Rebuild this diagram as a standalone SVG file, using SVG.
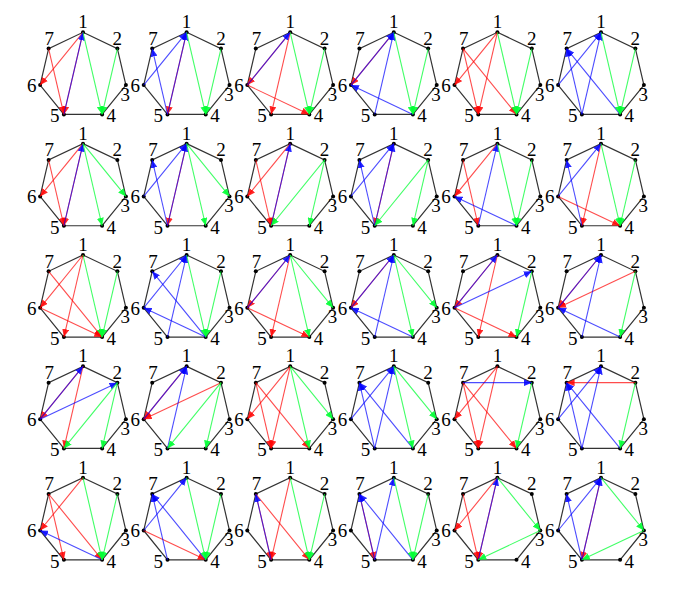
<svg xmlns="http://www.w3.org/2000/svg" xmlns:xlink="http://www.w3.org/1999/xlink" width="697" height="601" viewBox="0 0 697 601">
<style>
.hp{fill:none;stroke:#333;stroke-width:1.2}
.dot{fill:#000}
text{font-family:"Liberation Serif","DejaVu Serif",serif;font-size:19px;fill:#000;text-anchor:middle}
.r,.b,.g{fill:none;stroke-width:1.1}
.r{stroke:#ff0000;stroke-opacity:.7;marker-end:url(#mr)}
.b{stroke:#0000ff;stroke-opacity:.7;marker-end:url(#mb)}
.g{stroke:#00ff33;stroke-opacity:.75;marker-end:url(#mg)}
</style>
<defs>
<marker id="mr" viewBox="0 0 8 7" refX="8" refY="3.5" markerWidth="8" markerHeight="7" markerUnits="userSpaceOnUse" orient="auto"><path d="M0,0L8,3.5L0,7z" fill="#ff0000" fill-opacity=".85"/></marker>
<marker id="mb" viewBox="0 0 8 7" refX="8" refY="3.5" markerWidth="8" markerHeight="7" markerUnits="userSpaceOnUse" orient="auto"><path d="M0,0L8,3.5L0,7z" fill="#0000ff" fill-opacity=".85"/></marker>
<marker id="mg" viewBox="0 0 8 7" refX="8" refY="3.5" markerWidth="8" markerHeight="7" markerUnits="userSpaceOnUse" orient="auto"><path d="M0,0L8,3.5L0,7z" fill="#00ff33" fill-opacity=".9"/></marker>
<g id="hept">
<polygon class="hp" points="0,-43.2 34.4,-26.9 42.9,9.6 19.1,38.9 -19.1,38.9 -42.9,9.6 -34.4,-26.9"/>
<circle class="dot" cx="0" cy="-43.2" r="2"/><circle class="dot" cx="34.4" cy="-26.9" r="2"/><circle class="dot" cx="42.9" cy="9.6" r="2"/><circle class="dot" cx="19.1" cy="38.9" r="2"/><circle class="dot" cx="-19.1" cy="38.9" r="2"/><circle class="dot" cx="-42.9" cy="9.6" r="2"/><circle class="dot" cx="-34.4" cy="-26.9" r="2"/>
</g>
</defs>

<!-- Row 1 -->
<g id="cell-1-1" transform="translate(83,75.5)"><use href="#hept"/><text x="0" y="-47.2">1</text><text x="34.3" y="-30.5">2</text><text x="42.3" y="25">3</text><text x="28.3" y="46.7">4</text><text x="-28.3" y="46.7">5</text><text x="-51.3" y="16.3">6</text><text x="-33.7" y="-30.5">7</text>
<g class="connectors"><path class="r" d="M-34.4,-26.9L-19.1,38.9"/><path class="r" d="M0,-43.2L-42.9,9.6"/><path class="r" d="M0,-43.2L-19.1,38.9"/><path class="b" d="M-19.1,38.9L0,-43.2"/><path class="g" d="M0,-43.2L19.1,38.9"/><path class="g" d="M34.4,-26.9L19.1,38.9"/></g></g>

<g id="cell-1-2" transform="translate(186.6,75.5)"><use href="#hept"/><text x="0" y="-47.2">1</text><text x="34.3" y="-30.5">2</text><text x="42.3" y="25">3</text><text x="28.3" y="46.7">4</text><text x="-28.3" y="46.7">5</text><text x="-51.3" y="16.3">6</text><text x="-33.7" y="-30.5">7</text>
<g class="connectors"><path class="r" d="M0,-43.2L-19.1,38.9"/><path class="b" d="M-42.9,9.6L0,-43.2"/><path class="b" d="M-19.1,38.9L-34.4,-26.9"/><path class="b" d="M-19.1,38.9L0,-43.2"/><path class="g" d="M0,-43.2L19.1,38.9"/><path class="g" d="M34.4,-26.9L19.1,38.9"/></g></g>

<g id="cell-1-3" transform="translate(290.2,75.5)"><use href="#hept"/><text x="0" y="-47.2">1</text><text x="34.3" y="-30.5">2</text><text x="42.3" y="25">3</text><text x="28.3" y="46.7">4</text><text x="-28.3" y="46.7">5</text><text x="-51.3" y="16.3">6</text><text x="-33.7" y="-30.5">7</text>
<g class="connectors"><path class="r" d="M0,-43.2L-42.9,9.6"/><path class="r" d="M0,-43.2L-19.1,38.9"/><path class="r" d="M-42.9,9.6L19.1,38.9"/><path class="b" d="M-42.9,9.6L0,-43.2"/><path class="g" d="M0,-43.2L19.1,38.9"/><path class="g" d="M34.4,-26.9L19.1,38.9"/></g></g>

<g id="cell-1-4" transform="translate(393.8,75.5)"><use href="#hept"/><text x="0" y="-47.2">1</text><text x="34.3" y="-30.5">2</text><text x="42.3" y="25">3</text><text x="28.3" y="46.7">4</text><text x="-28.3" y="46.7">5</text><text x="-51.3" y="16.3">6</text><text x="-33.7" y="-30.5">7</text>
<g class="connectors"><path class="r" d="M0,-43.2L-42.9,9.6"/><path class="b" d="M-42.9,9.6L0,-43.2"/><path class="b" d="M-19.1,38.9L0,-43.2"/><path class="b" d="M19.1,38.9L-42.9,9.6"/><path class="g" d="M0,-43.2L19.1,38.9"/><path class="g" d="M34.4,-26.9L19.1,38.9"/></g></g>

<g id="cell-1-5" transform="translate(497.4,75.5)"><use href="#hept"/><text x="0" y="-47.2">1</text><text x="34.3" y="-30.5">2</text><text x="42.3" y="25">3</text><text x="28.3" y="46.7">4</text><text x="-28.3" y="46.7">5</text><text x="-51.3" y="16.3">6</text><text x="-33.7" y="-30.5">7</text>
<g class="connectors"><path class="r" d="M0,-43.2L-42.9,9.6"/><path class="r" d="M0,-43.2L-19.1,38.9"/><path class="r" d="M-34.4,-26.9L-19.1,38.9"/><path class="r" d="M-34.4,-26.9L19.1,38.9"/><path class="g" d="M0,-43.2L19.1,38.9"/><path class="g" d="M34.4,-26.9L19.1,38.9"/></g></g>

<g id="cell-1-6" transform="translate(601,75.5)"><use href="#hept"/><text x="0" y="-47.2">1</text><text x="34.3" y="-30.5">2</text><text x="42.3" y="25">3</text><text x="28.3" y="46.7">4</text><text x="-28.3" y="46.7">5</text><text x="-51.3" y="16.3">6</text><text x="-33.7" y="-30.5">7</text>
<g class="connectors"><path class="b" d="M-42.9,9.6L0,-43.2"/><path class="b" d="M-19.1,38.9L0,-43.2"/><path class="b" d="M-19.1,38.9L-34.4,-26.9"/><path class="b" d="M19.1,38.9L-34.4,-26.9"/><path class="g" d="M0,-43.2L19.1,38.9"/><path class="g" d="M34.4,-26.9L19.1,38.9"/></g></g>

<!-- Row 2 -->
<g id="cell-2-1" transform="translate(83,186.85)"><use href="#hept"/><text x="0" y="-47.2">1</text><text x="34.3" y="-30.5">2</text><text x="42.3" y="25">3</text><text x="28.3" y="46.7">4</text><text x="-28.3" y="46.7">5</text><text x="-51.3" y="16.3">6</text><text x="-33.7" y="-30.5">7</text>
<g class="connectors"><path class="r" d="M-34.4,-26.9L-19.1,38.9"/><path class="r" d="M0,-43.2L-42.9,9.6"/><path class="r" d="M0,-43.2L-19.1,38.9"/><path class="b" d="M-19.1,38.9L0,-43.2"/><path class="g" d="M0,-43.2L19.1,38.9"/><path class="g" d="M0,-43.2L42.9,9.6"/></g></g>

<g id="cell-2-2" transform="translate(186.6,186.85)"><use href="#hept"/><text x="0" y="-47.2">1</text><text x="34.3" y="-30.5">2</text><text x="42.3" y="25">3</text><text x="28.3" y="46.7">4</text><text x="-28.3" y="46.7">5</text><text x="-51.3" y="16.3">6</text><text x="-33.7" y="-30.5">7</text>
<g class="connectors"><path class="r" d="M0,-43.2L-19.1,38.9"/><path class="b" d="M-42.9,9.6L0,-43.2"/><path class="b" d="M-19.1,38.9L-34.4,-26.9"/><path class="b" d="M-19.1,38.9L0,-43.2"/><path class="g" d="M0,-43.2L19.1,38.9"/><path class="g" d="M0,-43.2L42.9,9.6"/></g></g>

<g id="cell-2-3" transform="translate(290.2,186.85)"><use href="#hept"/><text x="0" y="-47.2">1</text><text x="34.3" y="-30.5">2</text><text x="42.3" y="25">3</text><text x="28.3" y="46.7">4</text><text x="-28.3" y="46.7">5</text><text x="-51.3" y="16.3">6</text><text x="-33.7" y="-30.5">7</text>
<g class="connectors"><path class="r" d="M-34.4,-26.9L-19.1,38.9"/><path class="r" d="M0,-43.2L-42.9,9.6"/><path class="r" d="M0,-43.2L-19.1,38.9"/><path class="b" d="M-19.1,38.9L0,-43.2"/><path class="g" d="M34.4,-26.9L-19.1,38.9"/><path class="g" d="M34.4,-26.9L19.1,38.9"/></g></g>

<g id="cell-2-4" transform="translate(393.8,186.85)"><use href="#hept"/><text x="0" y="-47.2">1</text><text x="34.3" y="-30.5">2</text><text x="42.3" y="25">3</text><text x="28.3" y="46.7">4</text><text x="-28.3" y="46.7">5</text><text x="-51.3" y="16.3">6</text><text x="-33.7" y="-30.5">7</text>
<g class="connectors"><path class="r" d="M0,-43.2L-19.1,38.9"/><path class="b" d="M-42.9,9.6L0,-43.2"/><path class="b" d="M-19.1,38.9L-34.4,-26.9"/><path class="b" d="M-19.1,38.9L0,-43.2"/><path class="g" d="M34.4,-26.9L-19.1,38.9"/><path class="g" d="M34.4,-26.9L19.1,38.9"/></g></g>

<g id="cell-2-5" transform="translate(497.4,186.85)"><use href="#hept"/><text x="0" y="-47.2">1</text><text x="34.3" y="-30.5">2</text><text x="42.3" y="25">3</text><text x="28.3" y="46.7">4</text><text x="-28.3" y="46.7">5</text><text x="-51.3" y="16.3">6</text><text x="-33.7" y="-30.5">7</text>
<g class="connectors"><path class="r" d="M0,-43.2L-42.9,9.6"/><path class="r" d="M-34.4,-26.9L-19.1,38.9"/><path class="b" d="M-19.1,38.9L0,-43.2"/><path class="b" d="M19.1,38.9L-42.9,9.6"/><path class="g" d="M0,-43.2L19.1,38.9"/><path class="g" d="M34.4,-26.9L19.1,38.9"/></g></g>

<g id="cell-2-6" transform="translate(601,186.85)"><use href="#hept"/><text x="0" y="-47.2">1</text><text x="34.3" y="-30.5">2</text><text x="42.3" y="25">3</text><text x="28.3" y="46.7">4</text><text x="-28.3" y="46.7">5</text><text x="-51.3" y="16.3">6</text><text x="-33.7" y="-30.5">7</text>
<g class="connectors"><path class="r" d="M0,-43.2L-19.1,38.9"/><path class="r" d="M-42.9,9.6L19.1,38.9"/><path class="b" d="M-42.9,9.6L0,-43.2"/><path class="b" d="M-19.1,38.9L-34.4,-26.9"/><path class="g" d="M0,-43.2L19.1,38.9"/><path class="g" d="M34.4,-26.9L19.1,38.9"/></g></g>

<!-- Row 3 -->
<g id="cell-3-1" transform="translate(83,298.2)"><use href="#hept"/><text x="0" y="-47.2">1</text><text x="34.3" y="-30.5">2</text><text x="42.3" y="25">3</text><text x="28.3" y="46.7">4</text><text x="-28.3" y="46.7">5</text><text x="-51.3" y="16.3">6</text><text x="-33.7" y="-30.5">7</text>
<g class="connectors"><path class="r" d="M0,-43.2L-42.9,9.6"/><path class="r" d="M0,-43.2L-19.1,38.9"/><path class="r" d="M-34.4,-26.9L19.1,38.9"/><path class="r" d="M-42.9,9.6L19.1,38.9"/><path class="g" d="M0,-43.2L19.1,38.9"/><path class="g" d="M34.4,-26.9L19.1,38.9"/></g></g>

<g id="cell-3-2" transform="translate(186.6,298.2)"><use href="#hept"/><text x="0" y="-47.2">1</text><text x="34.3" y="-30.5">2</text><text x="42.3" y="25">3</text><text x="28.3" y="46.7">4</text><text x="-28.3" y="46.7">5</text><text x="-51.3" y="16.3">6</text><text x="-33.7" y="-30.5">7</text>
<g class="connectors"><path class="b" d="M-42.9,9.6L0,-43.2"/><path class="b" d="M-19.1,38.9L0,-43.2"/><path class="b" d="M19.1,38.9L-34.4,-26.9"/><path class="b" d="M19.1,38.9L-42.9,9.6"/><path class="g" d="M0,-43.2L19.1,38.9"/><path class="g" d="M34.4,-26.9L19.1,38.9"/></g></g>

<g id="cell-3-3" transform="translate(290.2,298.2)"><use href="#hept"/><text x="0" y="-47.2">1</text><text x="34.3" y="-30.5">2</text><text x="42.3" y="25">3</text><text x="28.3" y="46.7">4</text><text x="-28.3" y="46.7">5</text><text x="-51.3" y="16.3">6</text><text x="-33.7" y="-30.5">7</text>
<g class="connectors"><path class="r" d="M0,-43.2L-42.9,9.6"/><path class="r" d="M0,-43.2L-19.1,38.9"/><path class="r" d="M-42.9,9.6L19.1,38.9"/><path class="b" d="M-42.9,9.6L0,-43.2"/><path class="g" d="M0,-43.2L19.1,38.9"/><path class="g" d="M0,-43.2L42.9,9.6"/></g></g>

<g id="cell-3-4" transform="translate(393.8,298.2)"><use href="#hept"/><text x="0" y="-47.2">1</text><text x="34.3" y="-30.5">2</text><text x="42.3" y="25">3</text><text x="28.3" y="46.7">4</text><text x="-28.3" y="46.7">5</text><text x="-51.3" y="16.3">6</text><text x="-33.7" y="-30.5">7</text>
<g class="connectors"><path class="r" d="M0,-43.2L-42.9,9.6"/><path class="b" d="M-42.9,9.6L0,-43.2"/><path class="b" d="M-19.1,38.9L0,-43.2"/><path class="b" d="M19.1,38.9L-42.9,9.6"/><path class="g" d="M0,-43.2L19.1,38.9"/><path class="g" d="M0,-43.2L42.9,9.6"/></g></g>

<g id="cell-3-5" transform="translate(497.4,298.2)"><use href="#hept"/><text x="0" y="-47.2">1</text><text x="34.3" y="-30.5">2</text><text x="42.3" y="25">3</text><text x="28.3" y="46.7">4</text><text x="-28.3" y="46.7">5</text><text x="-51.3" y="16.3">6</text><text x="-33.7" y="-30.5">7</text>
<g class="connectors"><path class="r" d="M0,-43.2L-42.9,9.6"/><path class="r" d="M0,-43.2L-19.1,38.9"/><path class="r" d="M-42.9,9.6L19.1,38.9"/><path class="b" d="M-42.9,9.6L0,-43.2"/><path class="b" d="M-42.9,9.6L34.4,-26.9"/><path class="g" d="M34.4,-26.9L19.1,38.9"/></g></g>

<g id="cell-3-6" transform="translate(601,298.2)"><use href="#hept"/><text x="0" y="-47.2">1</text><text x="34.3" y="-30.5">2</text><text x="42.3" y="25">3</text><text x="28.3" y="46.7">4</text><text x="-28.3" y="46.7">5</text><text x="-51.3" y="16.3">6</text><text x="-33.7" y="-30.5">7</text>
<g class="connectors"><path class="r" d="M0,-43.2L-42.9,9.6"/><path class="r" d="M34.4,-26.9L-42.9,9.6"/><path class="b" d="M-42.9,9.6L0,-43.2"/><path class="b" d="M-19.1,38.9L0,-43.2"/><path class="b" d="M19.1,38.9L-42.9,9.6"/><path class="g" d="M34.4,-26.9L19.1,38.9"/></g></g>

<!-- Row 4 -->
<g id="cell-4-1" transform="translate(83,409.55)"><use href="#hept"/><text x="0" y="-47.2">1</text><text x="34.3" y="-30.5">2</text><text x="42.3" y="25">3</text><text x="28.3" y="46.7">4</text><text x="-28.3" y="46.7">5</text><text x="-51.3" y="16.3">6</text><text x="-33.7" y="-30.5">7</text>
<g class="connectors"><path class="r" d="M0,-43.2L-42.9,9.6"/><path class="r" d="M0,-43.2L-19.1,38.9"/><path class="b" d="M-42.9,9.6L0,-43.2"/><path class="b" d="M-42.9,9.6L34.4,-26.9"/><path class="g" d="M34.4,-26.9L-19.1,38.9"/><path class="g" d="M34.4,-26.9L19.1,38.9"/></g></g>

<g id="cell-4-2" transform="translate(186.6,409.55)"><use href="#hept"/><text x="0" y="-47.2">1</text><text x="34.3" y="-30.5">2</text><text x="42.3" y="25">3</text><text x="28.3" y="46.7">4</text><text x="-28.3" y="46.7">5</text><text x="-51.3" y="16.3">6</text><text x="-33.7" y="-30.5">7</text>
<g class="connectors"><path class="r" d="M0,-43.2L-42.9,9.6"/><path class="r" d="M34.4,-26.9L-42.9,9.6"/><path class="b" d="M-42.9,9.6L0,-43.2"/><path class="b" d="M-19.1,38.9L0,-43.2"/><path class="g" d="M34.4,-26.9L-19.1,38.9"/><path class="g" d="M34.4,-26.9L19.1,38.9"/></g></g>

<g id="cell-4-3" transform="translate(290.2,409.55)"><use href="#hept"/><text x="0" y="-47.2">1</text><text x="34.3" y="-30.5">2</text><text x="42.3" y="25">3</text><text x="28.3" y="46.7">4</text><text x="-28.3" y="46.7">5</text><text x="-51.3" y="16.3">6</text><text x="-33.7" y="-30.5">7</text>
<g class="connectors"><path class="r" d="M0,-43.2L-42.9,9.6"/><path class="r" d="M0,-43.2L-19.1,38.9"/><path class="r" d="M-34.4,-26.9L-19.1,38.9"/><path class="r" d="M-34.4,-26.9L19.1,38.9"/><path class="g" d="M0,-43.2L19.1,38.9"/><path class="g" d="M0,-43.2L42.9,9.6"/></g></g>

<g id="cell-4-4" transform="translate(393.8,409.55)"><use href="#hept"/><text x="0" y="-47.2">1</text><text x="34.3" y="-30.5">2</text><text x="42.3" y="25">3</text><text x="28.3" y="46.7">4</text><text x="-28.3" y="46.7">5</text><text x="-51.3" y="16.3">6</text><text x="-33.7" y="-30.5">7</text>
<g class="connectors"><path class="b" d="M-42.9,9.6L0,-43.2"/><path class="b" d="M-19.1,38.9L0,-43.2"/><path class="b" d="M-19.1,38.9L-34.4,-26.9"/><path class="b" d="M19.1,38.9L-34.4,-26.9"/><path class="g" d="M0,-43.2L19.1,38.9"/><path class="g" d="M0,-43.2L42.9,9.6"/></g></g>

<g id="cell-4-5" transform="translate(497.4,409.55)"><use href="#hept"/><text x="0" y="-47.2">1</text><text x="34.3" y="-30.5">2</text><text x="42.3" y="25">3</text><text x="28.3" y="46.7">4</text><text x="-28.3" y="46.7">5</text><text x="-51.3" y="16.3">6</text><text x="-33.7" y="-30.5">7</text>
<g class="connectors"><path class="r" d="M0,-43.2L-42.9,9.6"/><path class="r" d="M0,-43.2L-19.1,38.9"/><path class="r" d="M-34.4,-26.9L-19.1,38.9"/><path class="r" d="M-34.4,-26.9L19.1,38.9"/><path class="b" d="M-34.4,-26.9L34.4,-26.9"/><path class="g" d="M34.4,-26.9L19.1,38.9"/></g></g>

<g id="cell-4-6" transform="translate(601,409.55)"><use href="#hept"/><text x="0" y="-47.2">1</text><text x="34.3" y="-30.5">2</text><text x="42.3" y="25">3</text><text x="28.3" y="46.7">4</text><text x="-28.3" y="46.7">5</text><text x="-51.3" y="16.3">6</text><text x="-33.7" y="-30.5">7</text>
<g class="connectors"><path class="r" d="M34.4,-26.9L-34.4,-26.9"/><path class="b" d="M-42.9,9.6L0,-43.2"/><path class="b" d="M-19.1,38.9L0,-43.2"/><path class="b" d="M-19.1,38.9L-34.4,-26.9"/><path class="b" d="M19.1,38.9L-34.4,-26.9"/><path class="g" d="M34.4,-26.9L19.1,38.9"/></g></g>

<!-- Row 5 -->
<g id="cell-5-1" transform="translate(83,520.9)"><use href="#hept"/><text x="0" y="-47.2">1</text><text x="34.3" y="-30.5">2</text><text x="42.3" y="25">3</text><text x="28.3" y="46.7">4</text><text x="-28.3" y="46.7">5</text><text x="-51.3" y="16.3">6</text><text x="-33.7" y="-30.5">7</text>
<g class="connectors"><path class="r" d="M0,-43.2L-42.9,9.6"/><path class="r" d="M-34.4,-26.9L-19.1,38.9"/><path class="r" d="M-34.4,-26.9L19.1,38.9"/><path class="b" d="M19.1,38.9L-42.9,9.6"/><path class="g" d="M0,-43.2L19.1,38.9"/><path class="g" d="M34.4,-26.9L19.1,38.9"/></g></g>

<g id="cell-5-2" transform="translate(186.6,520.9)"><use href="#hept"/><text x="0" y="-47.2">1</text><text x="34.3" y="-30.5">2</text><text x="42.3" y="25">3</text><text x="28.3" y="46.7">4</text><text x="-28.3" y="46.7">5</text><text x="-51.3" y="16.3">6</text><text x="-33.7" y="-30.5">7</text>
<g class="connectors"><path class="r" d="M-42.9,9.6L19.1,38.9"/><path class="b" d="M-42.9,9.6L0,-43.2"/><path class="b" d="M-19.1,38.9L-34.4,-26.9"/><path class="b" d="M19.1,38.9L-34.4,-26.9"/><path class="g" d="M0,-43.2L19.1,38.9"/><path class="g" d="M34.4,-26.9L19.1,38.9"/></g></g>

<g id="cell-5-3" transform="translate(290.2,520.9)"><use href="#hept"/><text x="0" y="-47.2">1</text><text x="34.3" y="-30.5">2</text><text x="42.3" y="25">3</text><text x="28.3" y="46.7">4</text><text x="-28.3" y="46.7">5</text><text x="-51.3" y="16.3">6</text><text x="-33.7" y="-30.5">7</text>
<g class="connectors"><path class="r" d="M-34.4,-26.9L-19.1,38.9"/><path class="r" d="M0,-43.2L-19.1,38.9"/><path class="r" d="M-34.4,-26.9L19.1,38.9"/><path class="b" d="M-19.1,38.9L-34.4,-26.9"/><path class="g" d="M0,-43.2L19.1,38.9"/><path class="g" d="M34.4,-26.9L19.1,38.9"/></g></g>

<g id="cell-5-4" transform="translate(393.8,520.9)"><use href="#hept"/><text x="0" y="-47.2">1</text><text x="34.3" y="-30.5">2</text><text x="42.3" y="25">3</text><text x="28.3" y="46.7">4</text><text x="-28.3" y="46.7">5</text><text x="-51.3" y="16.3">6</text><text x="-33.7" y="-30.5">7</text>
<g class="connectors"><path class="r" d="M-34.4,-26.9L-19.1,38.9"/><path class="b" d="M-19.1,38.9L-34.4,-26.9"/><path class="b" d="M-19.1,38.9L0,-43.2"/><path class="b" d="M19.1,38.9L-34.4,-26.9"/><path class="g" d="M0,-43.2L19.1,38.9"/><path class="g" d="M34.4,-26.9L19.1,38.9"/></g></g>

<g id="cell-5-5" transform="translate(497.4,520.9)"><use href="#hept"/><text x="0" y="-47.2">1</text><text x="34.3" y="-30.5">2</text><text x="42.3" y="25">3</text><text x="28.3" y="46.7">4</text><text x="-28.3" y="46.7">5</text><text x="-51.3" y="16.3">6</text><text x="-33.7" y="-30.5">7</text>
<g class="connectors"><path class="r" d="M0,-43.2L-42.9,9.6"/><path class="r" d="M-34.4,-26.9L-19.1,38.9"/><path class="r" d="M0,-43.2L-19.1,38.9"/><path class="b" d="M-19.1,38.9L0,-43.2"/><path class="g" d="M0,-43.2L42.9,9.6"/><path class="g" d="M42.9,9.6L-19.1,38.9"/></g></g>

<g id="cell-5-6" transform="translate(601,520.9)"><use href="#hept"/><text x="0" y="-47.2">1</text><text x="34.3" y="-30.5">2</text><text x="42.3" y="25">3</text><text x="28.3" y="46.7">4</text><text x="-28.3" y="46.7">5</text><text x="-51.3" y="16.3">6</text><text x="-33.7" y="-30.5">7</text>
<g class="connectors"><path class="r" d="M0,-43.2L-19.1,38.9"/><path class="b" d="M-42.9,9.6L0,-43.2"/><path class="b" d="M-19.1,38.9L-34.4,-26.9"/><path class="b" d="M-19.1,38.9L0,-43.2"/><path class="g" d="M0,-43.2L42.9,9.6"/><path class="g" d="M42.9,9.6L-19.1,38.9"/></g></g>
</svg>
